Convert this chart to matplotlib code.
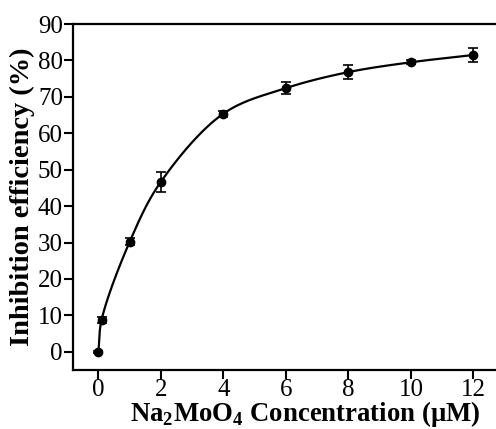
import numpy as np
import matplotlib
matplotlib.use("Agg")
import matplotlib.pyplot as plt

conc = [0, 0.1, 1, 2, 4, 6, 8, 10, 12]
inhib = [0.0, 8.7, 30.2, 46.7, 65.4, 72.4, 76.8, 79.5, 81.5]
err = [0.3, 0.8, 1.0, 2.7, 0.8, 1.6, 1.9, 0.5, 1.8]
xticks = [0, 2, 4, 6, 8, 10, 12]
yticks = [0, 10, 20, 30, 40, 50, 60, 70, 80, 90]

plt.rcParams['font.family'] = ['Liberation Serif', 'DejaVu Serif']
plt.rcParams['mathtext.fontset'] = 'custom'
plt.rcParams['mathtext.rm'] = 'Liberation Serif:bold'
plt.rcParams['mathtext.bf'] = 'Liberation Serif:bold'


def catmull_rom(P, n=60, alpha=0.5):
    P = np.asarray(P, float)
    ext = np.vstack([2 * P[0] - P[1], P, 2 * P[-1] - P[-2]])
    out = []
    for i in range(1, len(ext) - 2):
        p0, p1, p2, p3 = ext[i - 1], ext[i], ext[i + 1], ext[i + 2]
        t0 = 0.0
        t1 = t0 + max(np.linalg.norm(p1 - p0), 1e-6) ** alpha
        t2 = t1 + max(np.linalg.norm(p2 - p1), 1e-6) ** alpha
        t3 = t2 + max(np.linalg.norm(p3 - p2), 1e-6) ** alpha
        t = np.linspace(t1, t2, n)[:, None]
        a1 = (t1 - t) / (t1 - t0) * p0 + (t - t0) / (t1 - t0) * p1
        a2 = (t2 - t) / (t2 - t1) * p1 + (t - t1) / (t2 - t1) * p2
        a3 = (t3 - t) / (t3 - t2) * p2 + (t - t2) / (t3 - t2) * p3
        b1 = (t2 - t) / (t2 - t0) * a1 + (t - t0) / (t2 - t0) * a2
        b2 = (t3 - t) / (t3 - t1) * a2 + (t - t1) / (t3 - t1) * a3
        c = (t2 - t) / (t2 - t1) * b1 + (t - t1) / (t2 - t1) * b2
        out.append(c)
    return np.vstack(out)


fig = plt.figure(figsize=(4.96, 4.29), dpi=100)
# the original axes box runs past the right edge of the picture (cropped)
ax = fig.add_axes([0.148, 0.1375, 0.9325, 0.8065])
ax.set_xlim(-0.8, 14.0)
ax.set_ylim(-5, 90)

disp = ax.transData.transform(np.column_stack([conc, inhib]))
curve = ax.transData.inverted().transform(catmull_rom(disp))
ax.plot(curve[:, 0], curve[:, 1], color='black', lw=1.6)
ax.errorbar(conc, inhib, yerr=err, fmt='o', color='black', ms=6,
            elinewidth=1.2, capsize=3.5, capthick=1.2)

ax.set_xticks(xticks)
ax.set_yticks(yticks)
ax.tick_params(axis='both', direction='out', width=1.5, length=6.5, labelsize=18)
ax.tick_params(axis='x', pad=0)
ax.tick_params(axis='y', pad=1)
for s in ['left', 'bottom', 'top', 'right']:
    ax.spines[s].set_linewidth(1.6)

ax.set_xlabel(r'Na$_\mathbf{2}$MoO$_\mathbf{4}$ Concentration (μM)', fontsize=19.3,
              fontweight='bold', labelpad=-1.4)
ax.set_ylabel('Inhibition efficiency (%)', fontsize=20.5, fontweight='bold', labelpad=2)

fig.savefig('out.png', dpi=100)
